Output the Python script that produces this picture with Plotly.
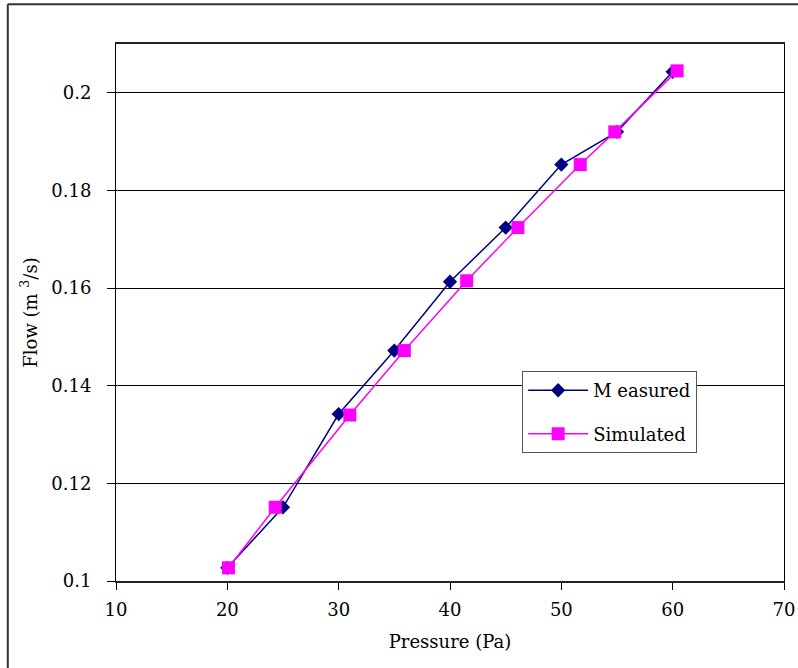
import plotly.graph_objects as go

pressure_measured = [20, 25, 30, 35, 40, 45, 50, 55, 60]
flow_measured = [0.1027, 0.1151, 0.1342, 0.1472, 0.1613, 0.1724, 0.1853, 0.1920, 0.2043]

pressure_simulated = [20.1, 24.3, 31.0, 35.9, 41.5, 46.1, 51.7, 54.8, 60.4]
flow_simulated = [0.1027, 0.1151, 0.1340, 0.1472, 0.1615, 0.1724, 0.1853, 0.1920, 0.2045]

x_ticks = [10, 20, 30, 40, 50, 60, 70]
y_ticks = [0.1, 0.12, 0.14, 0.16, 0.18, 0.2]
y_tick_labels = ["0.1", "0.12", "0.14", "0.16", "0.18", "0.2"]

FONT = "DejaVu Serif"

fig = go.Figure()
fig.add_trace(go.Scatter(
    x=pressure_measured, y=flow_measured, name="M easured",
    mode="lines+markers", legendgroup="m",
    line=dict(color="#000080", width=1.5),
    marker=dict(symbol="diamond", size=11, color="#000080"),
))
fig.add_trace(go.Scatter(
    x=pressure_simulated, y=flow_simulated, name="Simulated",
    mode="lines+markers", legendgroup="s",
    line=dict(color="#FF00FF", width=1.5),
    marker=dict(symbol="square", size=13, color="#FF00FF"),
))

fig.update_layout(
    width=798, height=668, autosize=False,
    margin=dict(l=116, r=14, t=44, b=87, autoexpand=False),
    paper_bgcolor="white", plot_bgcolor="white",
    font=dict(family=FONT, size=18, color="black"),
    showlegend=True,
    legend=dict(
        x=0.608, y=0.391, xanchor="left", yanchor="top",
        bgcolor="white", bordercolor="#555555", borderwidth=1,
        font=dict(family=FONT, size=18, color="black"),
        itemwidth=60, traceorder="grouped", tracegroupgap=17,
    ),
    xaxis=dict(
        range=[10, 70], tickvals=x_ticks, automargin=False,
        showgrid=False, zeroline=False,
        showline=True, linecolor="#222222", linewidth=1.5, mirror=True,
        ticks="outside", ticklen=7, tickcolor="black",
        ticklabelstandoff=5,
        tickfont=dict(family=FONT, size=18),
        title=dict(text="Pressure (Pa)", font=dict(family=FONT, size=18), standoff=16),
    ),
    yaxis=dict(
        range=[0.1, 0.21], tickvals=y_ticks, ticktext=y_tick_labels, automargin=False,
        showgrid=True, gridcolor="black", gridwidth=1,
        zeroline=False,
        showline=True, linecolor="black", linewidth=1, mirror=True,
        ticks="outside", ticklen=8, tickcolor="black",
        ticklabelstandoff=12,
        tickfont=dict(family=FONT, size=18),
        title=dict(text="Flow (m <sup>3</sup>/s)", font=dict(family=FONT, size=18), standoff=9),
    ),
)

# outer chart frame (left and top edges visible, right/bottom cropped as in reference)
fig.add_shape(type="line", xref="paper", yref="paper",
              x0=-0.162, x1=-0.162, y0=-0.3, y1=1.074,
              line=dict(color="#333333", width=2))
fig.add_shape(type="line", xref="paper", yref="paper",
              x0=-0.162, x1=1.2, y0=1.074, y1=1.074,
              line=dict(color="#333333", width=2))

post = (
    "document.body.style.margin='0';"
    "document.body.style.overflow='hidden';"
    "var gd=document.getElementById('{plot_id}');"
    "Plotly.relayout(gd,{width:798,height:668});"
)

fig.write_html("out.html", post_script=post,
               config=dict(displayModeBar=False, responsive=False))
